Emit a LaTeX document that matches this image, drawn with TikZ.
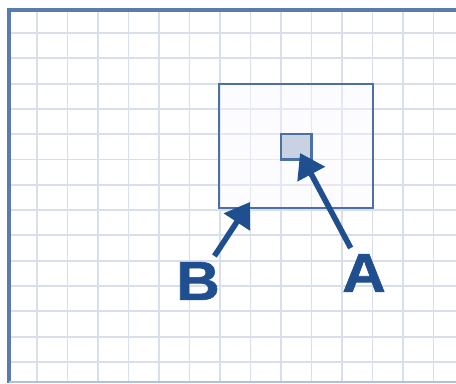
\documentclass[tikz,border=0pt]{standalone}
\usepackage{xcolor}
\usepackage{fontspec}
\usepackage{tikz}
\usetikzlibrary{arrows.meta}

\newfontfamily\letterfont[FakeStretch=1.1, FakeBold=1.2]{Liberation Sans}

\definecolor{gridblue}{HTML}{D8DFEA}
\definecolor{frameblue}{HTML}{5A7BAE}
\definecolor{boxblue}{HTML}{4A70A6}
\definecolor{inkblue}{HTML}{1F4F8E}
\definecolor{cellfill}{HTML}{C8D2E2}

\begin{document}
\begin{tikzpicture}[
        x=0.5mm, y=-0.5mm,
        gridline/.style={draw=gridblue, line width=2.6pt},
        frame/.style={draw=frameblue, line width=5pt},
        box/.style={rectangle, draw=boxblue, line width=3.6pt, fill=blue!3, fill opacity=0.4, draw opacity=1, minimum width=77mm, minimum height=62mm, inner sep=0pt},
        cell/.style={rectangle, draw=boxblue, line width=3pt, fill=cellfill, minimum width=15.2mm, minimum height=12.7mm, inner sep=0pt},
        letter/.style={text=inkblue, inner sep=3mm, font=\letterfont\bfseries\fontsize{78}{78}\selectfont},
        pointer/.style={draw=inkblue, line width=8pt, -{Triangle[length=12mm, width=15mm]}}
    ]
    \useasboundingbox (0,0) rectangle (456,383);

    % Grid
    \foreach \k in {0,...,13}
        \draw[gridline] (37+30.5*\k, 10) -- (37+30.5*\k, 383);
    \foreach \k in {0,...,13}
        \draw[gridline] (9, 33+25.3*\k) -- (456, 33+25.3*\k);

    % Frame of the sheet
    \draw[frame] (456,10) -- (9,10) -- (9,383);
    \draw[draw=gridblue!70!frameblue, line width=1.5pt] (9,382) -- (456,382);

    % Region and cell
    \node[box] (region) at (296,146) {};
    \node[cell] (cell) at (296.25,146.75) {};

    % Labels
    \node[letter] (labA) at (364,273) {A};
    \node[letter] (labB) at (198,281) {B};

    % Arrow tips
    \coordinate (tipA) at (300,153);
    \coordinate (tipB) at (250,202);

    % Arrows
    \draw[pointer] (labA) -- (tipA);
    \draw[pointer] (labB) -- (tipB);

\end{tikzpicture}
\end{document}
